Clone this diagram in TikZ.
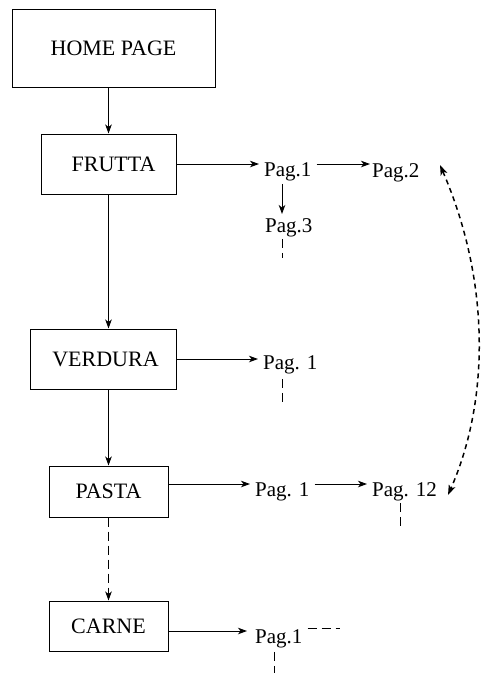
\documentclass[tikz,border=0pt]{standalone}
\usepackage{fontspec}
\setmainfont{Liberation Serif}
\usetikzlibrary{arrows.meta,calc}
\begin{document}
\begin{tikzpicture}[x=1pt,y=-1pt,
 box/.style={draw,line width=1pt,inner sep=0pt,font=\fontsize{22}{26}\selectfont},
 pag/.style={inner sep=0pt,anchor=north west,font=\fontsize{21}{25}\selectfont},
 arr/.style={line width=0.9pt,-{Stealth[length=9pt,width=6.5pt,inset=2.5pt]}},
 stub/.style={line width=0.9pt,dash pattern=on 9pt off 5pt},
 link/.style={line width=1.5pt,dash pattern=on 5pt off 4pt,{Stealth[length=10pt,width=7pt,inset=2.5pt]}-{Stealth[length=10pt,width=7pt,inset=2.5pt]}},
 ]
\useasboundingbox (0,0) rectangle (481,673);
% boxes
\node[box,minimum width=203pt,minimum height=78pt] (home) at (113.5,48) {HOME PAGE};
\node[box,minimum width=135pt,minimum height=60pt] (frutta) at (108.5,164) {\hspace*{10pt}FRUTTA};
\node[box,minimum width=146pt,minimum height=60pt] (verdura) at (103,359) {\hspace*{5pt}VERDURA};
\node[box,minimum width=119pt,minimum height=51pt] (pasta) at (108.5,491.5) {PASTA};
\node[box,minimum width=119pt,minimum height=50pt] (carne) at (108.5,626) {CARNE};
% page labels
\node[pag] (f1) at (264,162) {Pag.1};
\node[pag] (f2) at (372,163) {Pag.2};
\node[pag] (f3) at (265,218) {Pag.3};
\node[pag] (v1) at (263,355) {Pag. 1};
\node[pag] (p1) at (255,482) {Pag. 1};
\node[pag] (p12) at (372,482) {Pag. 12};
\node[pag] (c1) at (255,629) {Pag.1};
% arrow end coordinates
\coordinate (fa) at ($(f1.north west)+(-5,2)$);
\coordinate (fb) at ($(f2.north west)+(-2,1)$);
\coordinate (va) at ($(v1.north west)+(-5,4)$);
\coordinate (pa) at ($(p1.north west)+(-5,2)$);
\coordinate (pb) at ($(p12.north west)+(-5,2)$);
\coordinate (ca) at ($(c1.north west)+(-8,2)$);
\coordinate (f3s) at (282,258);
\coordinate (v1s) at (282,405);
\coordinate (p12s) at (400,530);
\coordinate (c1r) at (340,628);
\coordinate (c1s) at (274,673);
\coordinate (lt) at (440,165);
\coordinate (lb) at (448,495);
% vertical chain
\draw[arr] (frutta.north |- home.south) -- (frutta.north);
\draw[arr] (frutta.south) -- (frutta.south |- verdura.north);
\draw[arr] (pasta.north |- verdura.south) -- (pasta.north);
\draw[arr,dash pattern=on 9pt off 5pt] (pasta.south) -- (carne.north);
% horizontal
\draw[arr] (frutta.east |- fa) -- (fa);
\draw[arr] ($(f1.east |- fa)+(5,0)$) -- (fb);
\draw[arr] ($(f1.south west)+(18,3)$) -- ($(f3.north west)+(17,-4)$);
\draw[stub] ($(f3.south west)+(17,2)$) -- (f3s);
\draw[arr] (verdura.east |- va) -- (va);
\draw[stub] ($(v1.south west)+(19,5)$) -- (v1s);
\draw[arr] (pasta.east |- pa) -- (pa);
\draw[arr] ($(p1.east |- pa)+(5,0)$) -- (pb);
\draw[stub] ($(p12.south west)+(28,2)$) -- (p12s);
\draw[arr] (carne.east |- ca) -- (ca);
\draw[stub] ($(c1.north east)+(5,-1)$) -- (c1r);
\draw[stub] ($(c1.south west)+(19,4)$) -- (c1s);
% curved link
\draw[link] (lt) .. controls (490,280) and (490,400) .. (lb);
\end{tikzpicture}
\end{document}
